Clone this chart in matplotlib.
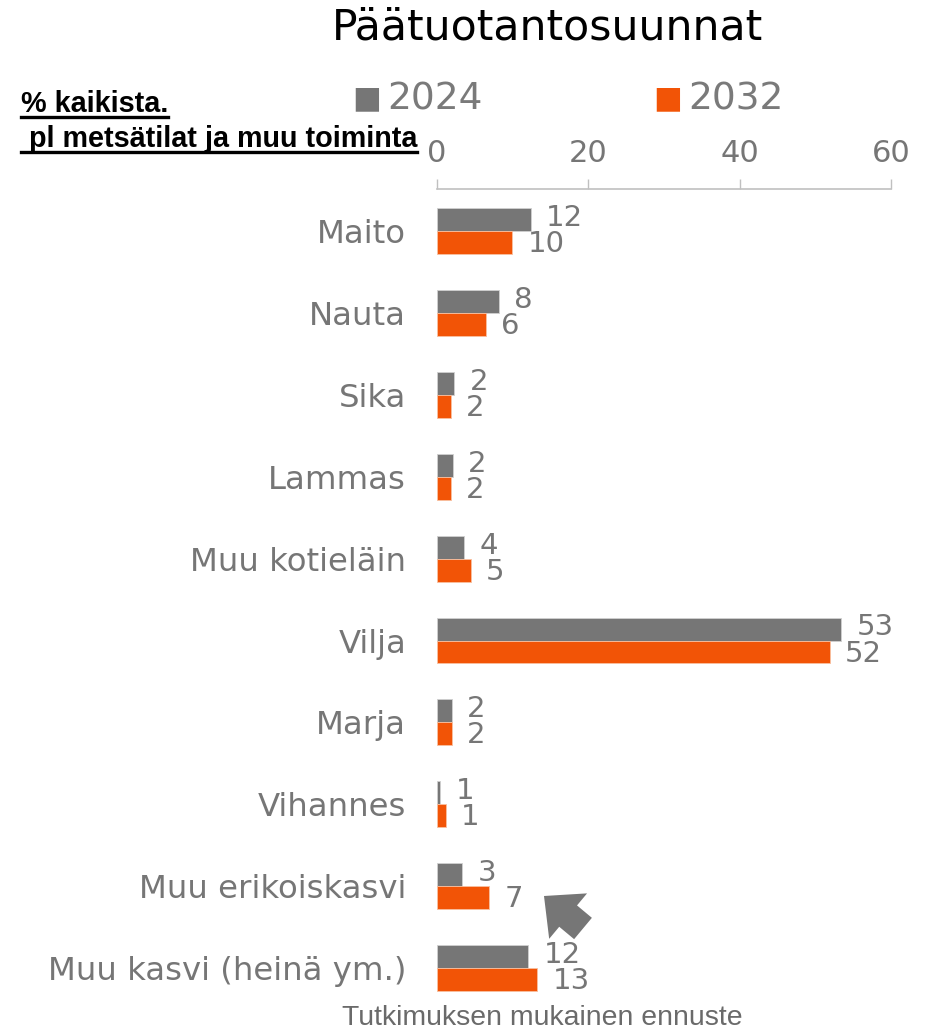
import matplotlib
matplotlib.use("Agg")
import matplotlib.pyplot as plt
from matplotlib.patches import FancyArrowPatch
import numpy as np

categories = ["Maito", "Nauta", "Sika", "Lammas", "Muu kotieläin", "Vilja",
              "Marja", "Vihannes", "Muu erikoiskasvi", "Muu kasvi (heinä ym.)"]
values_2024 = [12.4, 8.2, 2.3, 2.1, 3.6, 53.4, 2.0, 0.5, 3.35, 12.1]
values_2032 = [9.95, 6.5, 1.9, 1.9, 4.5, 51.9, 2.0, 1.2, 6.9, 13.3]
labels_2024 = ["12", "8", "2", "2", "4", "53", "2", "1", "3", "12"]
labels_2032 = ["10", "6", "2", "2", "5", "52", "2", "1", "7", "13"]
series_names = ["2024", "2032"]
xticks = [0, 20, 40, 60]

GRAY = "#767676"
ORANGE = "#F25406"
TXT = "#767676"

W, H = 940, 1035
fig = plt.figure(figsize=(W / 100, H / 100), dpi=100)
plt.rcParams['font.family'] = ['DejaVu Sans']

left, right, top, bottom = 436.7, 891, 189.3, 1009
ax = fig.add_axes([left / W, 1 - bottom / H, (right - left) / W, (bottom - top) / H])

y = np.arange(len(categories))
bh = 0.28
ax.barh(y - bh / 2, values_2024, height=bh, color=GRAY, edgecolor="#d0d0d0", linewidth=0.6)
ax.barh(y + bh / 2, values_2032, height=bh, color=ORANGE, edgecolor="#f8c0a0", linewidth=0.6)

fs = 21
for i in range(len(categories)):
    ax.annotate(labels_2024[i], (values_2024[i], y[i] - bh / 2 - 0.02), xytext=(11, 0),
                textcoords="offset points", va="center", ha="left", fontsize=fs, color=TXT)
    ax.annotate(labels_2032[i], (values_2032[i], y[i] + bh / 2 + 0.02), xytext=(11, 0),
                textcoords="offset points", va="center", ha="left", fontsize=fs, color=TXT)

ax.set_xlim(0, 60)
ax.set_ylim(len(categories) - 0.5, -0.51)
ax.set_yticks(y)
ax.set_yticklabels(categories, fontsize=23.3, color=TXT)
ax.tick_params(axis="y", length=0, pad=22)
ax.xaxis.tick_top()
ax.set_xticks(xticks)
ax.set_xticklabels([str(t) for t in xticks], fontsize=22, color=TXT)
ax.tick_params(axis="x", direction="out", length=7, width=1, color="#c0c0c0", pad=8)
for s in ["right", "bottom", "left"]:
    ax.spines[s].set_visible(False)
ax.spines["top"].set_color("#c0c0c0")
ax.spines["top"].set_linewidth(1.2)

# Title
fig.text(547 / W, 1 - 28 / H, "Päätuotantosuunnat", ha="center", va="center", fontsize=30.7, color="black")

# Legend
for name, col, sx in [(series_names[0], GRAY, 367), (series_names[1], ORANGE, 668)]:
    fig.text(sx / W, 1 - 99 / H, "\u25A0", ha="center", va="center", fontsize=22, color=col)
    fig.text((sx + 20) / W, 1 - 99 / H, name, ha="left", va="center", fontsize=27, color="#7a7a7a")

# Header (bold, underlined)
hdr_lines = ["% kaikista.", " pl metsätilat ja muu toiminta"]
hdr_y = [104, 139]
fig.canvas.draw()
r = fig.canvas.get_renderer()
for txt, yy in zip(hdr_lines, hdr_y):
    t = fig.text(21 / W, 1 - yy / H, txt, ha="left", va="center", fontsize=20.7,
                 fontweight="bold", family="Liberation Sans", color="black")
    bb = t.get_window_extent(renderer=r)
    uy = bb.y0 + 1
    fig.add_artist(plt.Line2D([bb.x0 / W, bb.x1 / W], [uy / H, uy / H], color="black", lw=2.4,
                              transform=fig.transFigure))

# Arrow
arr = FancyArrowPatch((583 / W, 1 - 928.5 / H), (544 / W, 1 - 896 / H), transform=fig.transFigure,
                      arrowstyle="simple,head_length=1.13,head_width=2.13,tail_width=1.0",
                      mutation_scale=20, color=GRAY, lw=0, shrinkA=0, shrinkB=0)
fig.add_artist(arr)

# Footer
fig.text(542 / W, 1 - 1018 / H, "Tutkimuksen mukainen ennuste", ha="center", va="center",
         fontsize=20.4, family="Liberation Sans", color="#6a6a6a")

fig.savefig("out.png", dpi=100)
